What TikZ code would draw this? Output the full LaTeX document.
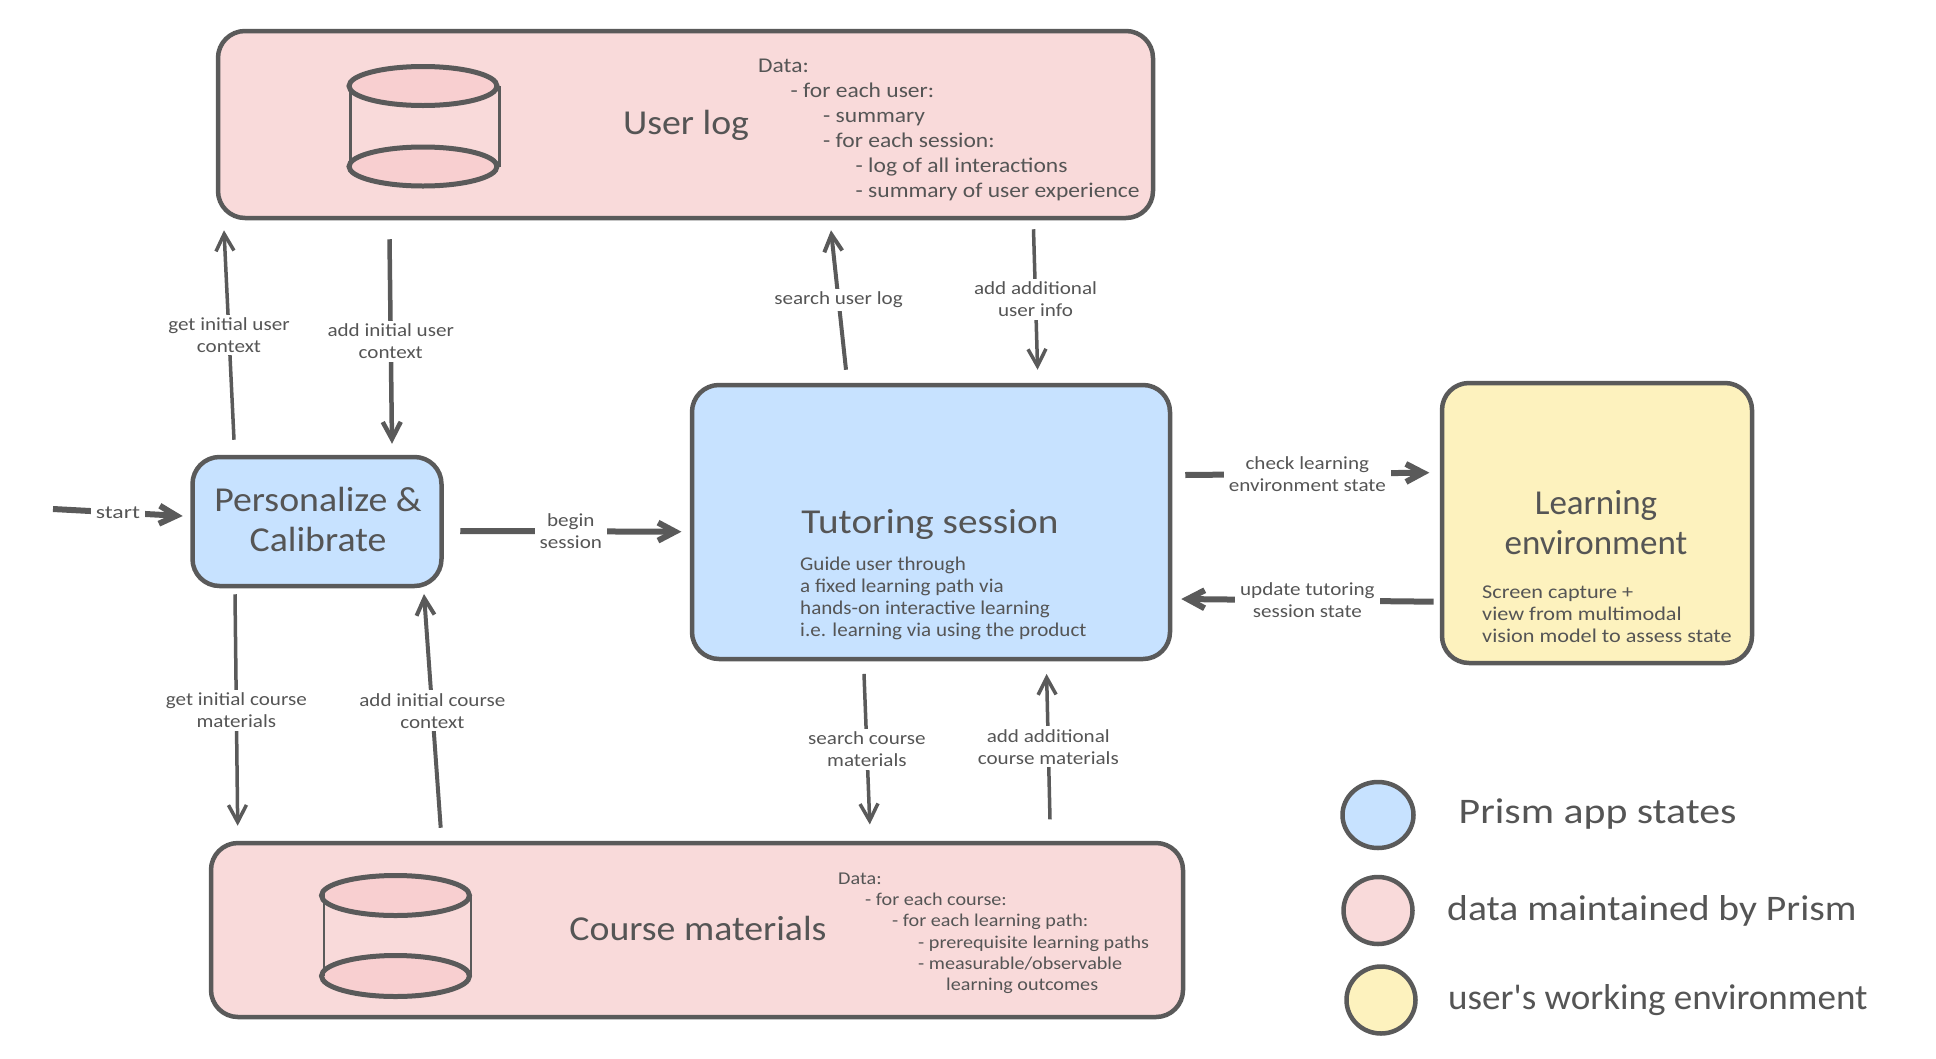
\documentclass[tikz,border=0pt]{standalone}
\usepackage{fontspec}
\setmainfont{Carlito}
\newfontfamily\fa[FakeStretch=1.03]{Carlito}
\newfontfamily\fb[FakeStretch=1.08]{Carlito}
\newfontfamily\ff[FakeStretch=1.10]{Carlito}
\newfontfamily\fc[FakeStretch=1.12]{Carlito}
\newfontfamily\fe[FakeStretch=1.14]{Carlito}
\newfontfamily\fd[FakeStretch=1.16]{Carlito}
\newfontfamily\fg[FakeStretch=1.28]{Carlito}
\usetikzlibrary{arrows.meta,calc,shapes.geometric}
\definecolor{ink}{HTML}{5A5A5A}
\definecolor{txt}{HTML}{555555}
\definecolor{bluef}{HTML}{C7E2FF}
\definecolor{pinkf}{HTML}{F9DADA}
\definecolor{pinkd}{HTML}{F8CFD0}
\definecolor{yelf}{HTML}{FDF2BE}
\tikzset{
  box/.style={draw=ink,line width=4.5pt,rounded corners=27pt,inner sep=0pt},
  cylcap/.style={ellipse,draw=ink,line width=5pt,fill=pinkd,inner sep=0pt},
  cylside/.style={draw=ink,line width=2.4pt},
  legdot/.style={ellipse,draw=ink,line width=4.5pt,inner sep=0pt},
  arr/.style={draw=ink,line width=#1,-{Straight Barb[length=17pt,width=18pt,line width=#1]}},
  lab/.style={fill=white,text=txt,inner xsep=5pt,inner ysep=3pt,align=center,font=\fe\fontsize{18.5}{22}\selectfont},
  ttl/.style={text=txt,inner sep=0pt,align=center,font=\fontsize{35}{40}\selectfont},
  legtxt/.style={text=txt,inner sep=0pt,anchor=west,font=\fontsize{36}{40}\selectfont},
  bodytxt/.style={text=txt,inner sep=0pt,anchor=north west,align=left}
}
\begin{document}
\begin{tikzpicture}[x=1pt,y=-1pt]
\useasboundingbox (0,0) rectangle (1936,1058);
% boxes
\node[box,fill=pinkf,minimum width=935pt,minimum height=187pt] (ulog) at (685.5,124.5) {};
\node[box,fill=pinkf,minimum width=972pt,minimum height=174pt] (course) at (697,930) {};
\node[box,fill=bluef,minimum width=249pt,minimum height=129pt] (cal) at (317,521.5) {};
\node[box,fill=bluef,minimum width=478pt,minimum height=274pt] (tutor) at (931,522) {};
\node[box,fill=yelf,minimum width=310pt,minimum height=280pt] (learn) at (1597,523) {};
% cylinders
\node[cylcap,minimum width=148pt,minimum height=39pt] (ucapb) at (423,166.5) {};
\node[cylcap,minimum width=148pt,minimum height=39pt] (ucapt) at (423,86) {};
\draw[cylside] ($(ucapt.west)+(4,-3)$) -- ($(ucapb.west)+(4,0)$);
\draw[cylside] ($(ucapt.east)+(0,0)$) -- ($(ucapb.east)+(0,0)$);
\node[cylcap,minimum width=148pt,minimum height=41pt] (ccapb) at (395.5,976) {};
\node[cylcap,minimum width=148pt,minimum height=40pt] (ccapt) at (395.5,895.5) {};
\draw[cylside] ($(ccapt.west)+(5,-3)$) -- ($(ccapb.west)+(5,0)$);
\draw[cylside] ($(ccapt.east)+(-1,0)$) -- ($(ccapb.east)+(-1,0)$);
% titles
\node[ttl,font=\fb\fontsize{35}{40}\selectfont] (tulog) at (686,125.5) {User log};
\node[ttl,font=\fb\fontsize{35}{40}\selectfont] (tcourse) at (698,928) {Course materials};
\node[ttl,font=\fb\fontsize{35}{40}\selectfont] (tcal) at (318,519.5) {Personalize \&\\Calibrate};
\node[ttl,font=\fc\fontsize{35}{40}\selectfont] (ttutor) at (930,524.5) {Tutoring session};
\node[ttl] (tlearn) at (1596,523) {Learning\\environment};
% body texts
\node[bodytxt,font=\fc\fontsize{21}{25}\selectfont] (dulog) at (758,58.5) {Data:\\\hspace*{32.5pt}- for each user:\\\hspace*{65pt}- summary\\\hspace*{65pt}- for each session:\\\hspace*{97.5pt}- log of all interactions\\\hspace*{97.5pt}- summary of user experience};
\node[bodytxt,font=\fc\fontsize{18}{21.3}\selectfont] (dcourse) at (838,872.5) {Data:\\\hspace*{27pt}- for each course:\\\hspace*{54pt}- for each learning path:\\\hspace*{80pt}- prerequisite learning paths\\\hspace*{80pt}- measurable/observable\\\hspace*{108pt}learning outcomes};
\node[bodytxt,font=\fb\fontsize{19.5}{22}\selectfont] (dtutor) at (800,556.7) {Guide user through\\a fixed learning path via\\hands-on interactive learning\\i.e. learning via using the product};
\node[bodytxt,font=\fe\fontsize{19.5}{22}\selectfont] (dlearn) at (1482,586) {Screen capture +\\view from multimodal\\vision model to assess state};
% connectors
\coordinate (startpt) at (53,509);
\draw[arr=3.5pt] ($(cal.north)+(-83,-15)$) -- node[lab] (l1) {get initial user\\context} ($(ulog.south)+(-461.5,10)$);
\draw[arr=4.5pt] ($(ulog.south)+(-296,19)$) -- node[lab] (l2) {add initial user\\context} ($(cal.north)+(75,-11)$);
\draw[arr=4pt] ($(tutor.north)+(-85,-13)$) -- node[lab] (l3) {search user log} ($(ulog.south)+(145.5,10)$);
\draw[arr=3.5pt] ($(ulog.south)+(348,9)$) -- node[lab] (l4) {add additional\\user info} ($(tutor.north)+(106.6,-13)$);
\draw[arr=6pt] (startpt) -- node[lab,font=\fg\fontsize{18.5}{22}\selectfont] (l5) {start} ($(cal.west)+(-7.5,-5.5)$);
\draw[arr=6pt] ($(cal.east)+(16.5,9.5)$) -- node[lab] (l6) {begin\\session} ($(tutor.west)+(-8.3,9.7)$);
\draw[arr=3.5pt] ($(cal.south)+(-82,6)$) -- node[lab] (l7) {get initial course\\materials} ($(course.north)+(-459.3,-15)$);
\draw[arr=4pt] ($(course.north)+(-256.3,-13)$) -- node[lab] (l8) {add initial course\\context} ($(cal.south)+(107,5.7)$);
\draw[arr=3.5pt] ($(tutor.south)+(-67,12.7)$) -- node[lab] (l9) {search course\\materials} ($(course.north)+(172.8,-16.3)$);
\draw[arr=3.5pt] ($(course.north)+(353,-21.3)$) -- node[lab] (l10) {add additional\\course materials} ($(tutor.south)+(115.6,12.7)$);
\draw[arr=6pt] ($(tutor.east)+(13,-47)$) -- node[lab] (l11) {check learning\\environment state} ($(learn.west)+(-10.4,-50.3)$);
\draw[arr=6pt] ($(learn.west)+(-6.2,78.7)$) -- node[lab] (l12) {update tutoring\\session state} ($(tutor.east)+(9,77)$);
% legend
\node[legdot,fill=bluef,minimum width=71pt,minimum height=66pt] (dotb) at (1378,815) {};
\node[legdot,fill=pinkf,minimum width=69pt,minimum height=67pt] (dotp) at (1378,910.5) {};
\node[legdot,fill=yelf,minimum width=69pt,minimum height=67pt] (doty) at (1381,1000) {};
\node[legtxt,font=\fd\fontsize{36}{40}\selectfont] (legb) at (1458.5,814.5) {Prism app states};
\node[legtxt,font=\ff\fontsize{36}{40}\selectfont] (legp) at (1447,911) {data maintained by Prism};
\node[legtxt,font=\fa\fontsize{36}{40}\selectfont] (legy) at (1448,1000) {user's working environment};
\end{tikzpicture}
\end{document}
